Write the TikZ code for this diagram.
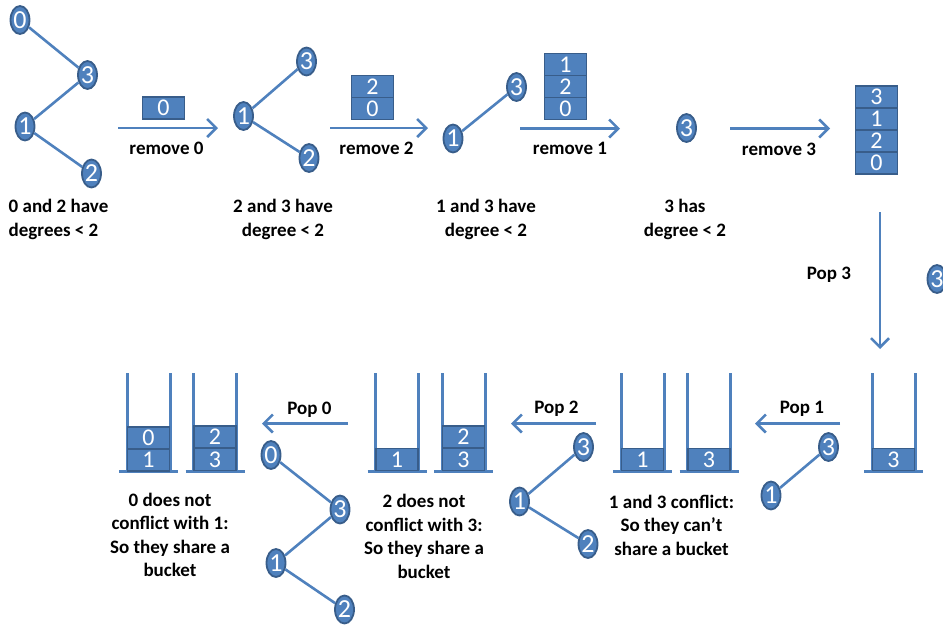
\documentclass[tikz,border=0pt]{standalone}
\usepackage{fontspec}
\setmainfont{Carlito}
\usetikzlibrary{shapes.geometric,arrows.meta}
\definecolor{vfill}{HTML}{4F81BD}
\definecolor{vline}{HTML}{385D8A}

\begin{document}
\begin{tikzpicture}[x=1pt,y=-1pt,
  vert/.style={ellipse,fill=vfill,draw=vline,line width=1.8pt,
    minimum width=19pt,minimum height=28pt,inner sep=0pt,text=white,
    text height=16pt,text depth=0pt,
    font=\fontsize{26}{26}\selectfont},
  edge/.style={draw=vfill,line width=2.6pt},
  cell/.style={rectangle,fill=vfill,draw=vline,line width=1.8pt,
    minimum width=42pt,minimum height=22pt,inner sep=0pt,text=white,
    text height=15pt,text depth=0pt,
    font=\fontsize{24}{24}\selectfont},
  flow/.style={draw=vfill,line width=2.6pt,
    -{Straight Barb[length=9pt,width=18pt]}},
  lbl/.style={font=\bfseries\fontsize{19}{23.5}\selectfont,align=center,inner sep=0pt},
  wall/.style={draw=vfill,line width=3pt},
]
\useasboundingbox (0,0) rectangle (943,625);

% ---------- top row: removal steps ----------
% graph with all four vertices
\node[vert] (a0) at (20,20) {0};
\node[vert] (a3) at (87.5,75) {3};
\node[vert] (a1) at (25,126.5) {1};
\node[vert] (a2) at (91.5,173.5) {2};
\draw[edge] (a0) -- (a3);
\draw[edge] (a3) -- (a1);
\draw[edge] (a1) -- (a2);
\node[lbl,align=left,anchor=west] (t1) at (8.5,219.5) {0 and 2 have\\degrees < 2};

\coordinate (r0s) at (118,128);
\coordinate (r0e) at (218,128);
\draw[flow] (r0s) -- (r0e);
\node[cell] (s1a) at (163.5,108) {0};
\node[lbl] (r0) at (166.5,148.5) {remove 0};

% vertex 0 removed
\node[vert] (b3) at (306.5,61.5) {3};
\node[vert] (b1) at (243.5,116) {1};
\node[vert] (b2) at (309,158) {2};
\draw[edge] (b1) -- (b3);
\draw[edge] (b1) -- (b2);
\node[lbl] (t2) at (283,219.5) {2 and 3 have\\degree < 2};

\coordinate (r2s) at (330,128);
\coordinate (r2e) at (428,128);
\draw[flow] (r2s) -- (r2e);
\node[cell] (s2a) at (372.5,86.5) {2};
\node[cell] (s2b) at (372.5,108.5) {0};
\node[lbl] (r2) at (376.5,148.5) {remove 2};

% vertices 0 and 2 removed
\node[vert] (c3) at (516.5,87) {3};
\node[vert] (c1) at (453,138.5) {1};
\draw[edge] (c1) -- (c3);
\node[lbl] (t3) at (486,219.5) {1 and 3 have\\degree < 2};

\coordinate (r1s) at (520,128.5);
\coordinate (r1e) at (620,128.5);
\draw[flow] (r1s) -- (r1e);
\node[cell] (s3a) at (565.5,64.5) {1};
\node[cell] (s3b) at (565.5,86.5) {2};
\node[cell] (s3c) at (565.5,108.5) {0};
\node[lbl] (r1) at (570,148.5) {remove 1};

% only vertex 3 left
\node[vert] (d3) at (686.5,128) {3};
\node[lbl] (t4) at (685,219.5) {3 has\\degree < 2};

\coordinate (r3s) at (730,128.5);
\coordinate (r3e) at (830,128.5);
\draw[flow] (r3s) -- (r3e);
\node[lbl] (r3) at (779,149) {remove 3};

% full stack
\node[cell] (s4a) at (876.5,97) {3};
\node[cell] (s4b) at (876.5,119) {1};
\node[cell] (s4c) at (876.5,141) {2};
\node[cell] (s4d) at (876.5,163) {0};

% ---------- pop phase ----------
\coordinate (p3s) at (880,212);
\coordinate (p3e) at (880,349);
\draw[flow] (p3s) -- (p3e);
\node[lbl] (p3) at (829,274.5) {Pop 3};
\node[vert] (e3) at (937,279) {3};

% buckets: walls and floor
\foreach \xl in {127,193.5,375.5,442,621,687.5,872}{
  \draw[wall] (\xl,373) -- (\xl,471);
  \draw[wall] (\xl+43,373) -- (\xl+43,471);
  \draw[wall] (\xl-8,471) -- (\xl+51,471);
}

% bucket contents
\node[cell] (k1) at (893.5,459.5) {3};

\node[cell] (k2) at (642.5,459.5) {1};
\node[cell] (k3) at (709,459.5) {3};

\node[cell] (k4) at (397,459.5) {1};
\node[cell] (k5) at (463.5,437) {2};
\node[cell] (k6) at (463.5,459.5) {3};

\node[cell] (k7) at (148.5,438) {0};
\node[cell] (k8) at (148.5,460) {1};
\node[cell] (k9) at (215,437) {2};
\node[cell] (k10) at (215,459.5) {3};

% pop 1
\coordinate (p1s) at (840,423.5);
\coordinate (p1e) at (755,423.5);
\draw[flow] (p1s) -- (p1e);
\node[lbl] (p1) at (802,409) {Pop 1};
\node[vert] (f3) at (828.5,447) {3};
\node[vert] (f1) at (771,495.5) {1};
\draw[edge] (f1) -- (f3);
\node[lbl] (t5) at (671.5,525) {1 and 3 conflict:\\So they can’t\\share a bucket};

% pop 2
\coordinate (p2s) at (596,423.5);
\coordinate (p2e) at (511,423.5);
\draw[flow] (p2s) -- (p2e);
\node[lbl] (p2) at (556.5,409) {Pop 2};
\node[vert] (g3) at (583.5,447) {3};
\node[vert] (g1) at (519.5,501.5) {1};
\node[vert] (g2) at (588,544) {2};
\draw[edge] (g1) -- (g3);
\draw[edge] (g1) -- (g2);
\node[lbl] (t6) at (424,536.5) {2 does not\\conflict with 3:\\So they share a\\bucket};

% pop 0
\coordinate (p0s) at (348,423.5);
\coordinate (p0e) at (262,423.5);
\draw[flow] (p0s) -- (p0e);
\node[lbl] (p0) at (309.5,409.5) {Pop 0};
\node[vert] (h0) at (271,455) {0};
\node[vert] (h3) at (340,509.5) {3};
\node[vert] (h1) at (276,563) {1};
\node[vert] (h2) at (344.5,609.5) {2};
\draw[edge] (h0) -- (h3);
\draw[edge] (h3) -- (h1);
\draw[edge] (h1) -- (h2);
\node[lbl] (t7) at (170,535) {0 does not\\conflict with 1:\\So they share a\\bucket};
\end{tikzpicture}
\end{document}
